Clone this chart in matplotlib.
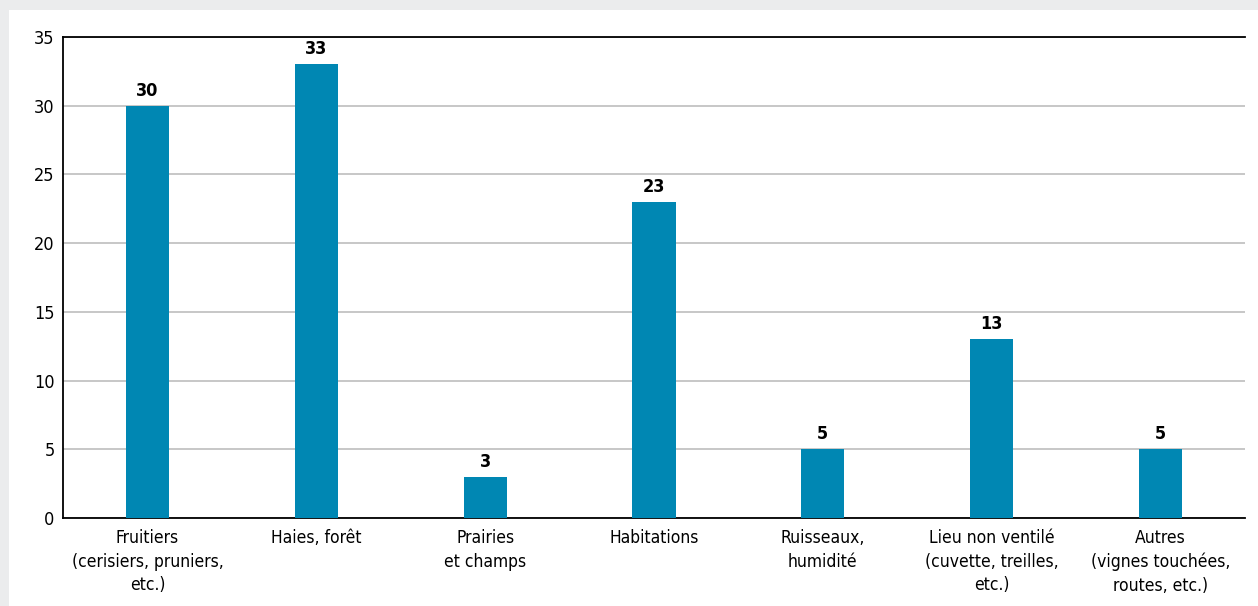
import matplotlib
matplotlib.use("Agg")
import matplotlib.pyplot as plt
from matplotlib.patches import Rectangle

categories = ["Fruitiers\n(cerisiers, pruniers,\netc.)", "Haies, forêt", "Prairies\net champs",
              "Habitations", "Ruisseaux,\nhumidité", "Lieu non ventilé\n(cuvette, treilles,\netc.)",
              "Autres\n(vignes touchées,\nroutes, etc.)"]
values = [30, 33, 3, 23, 5, 13, 5]
yticks = [0, 5, 10, 15, 20, 25, 30, 35]

plt.rcParams['font.family'] = ['DejaVu Sans']
plt.rcParams['font.stretch'] = 'condensed'

W, H = 1258, 606
fig = plt.figure(figsize=(W / 100, H / 100), dpi=100, facecolor="#ebeced")
# white panel behind the axes
fig.patches.append(Rectangle((9 / W, 0), 1 - 9 / W, 1 - 10 / H, transform=fig.transFigure,
                             facecolor="white", edgecolor="none", zorder=-10))

ax = fig.add_axes([63 / W, 1 - 518 / H, (1245 - 63) / W, (518 - 37) / H])
ax.set_facecolor("white")
x = range(len(values))
ax.bar(x, values, width=0.255, color="#0087b3", zorder=3)
for xi, v in zip(x, values):
    ax.text(xi, v + 0.45, str(v), ha="center", va="bottom", fontsize=13, fontweight="bold", zorder=4)

ax.set_xlim(-0.5, len(values) - 0.5)
ax.set_ylim(0, 35)
ax.set_yticks(yticks)
ax.set_xticks(list(x))
ax.set_xticklabels(categories, fontsize=12.5, linespacing=1.4)
ax.tick_params(axis="y", length=0, pad=6, labelsize=13)
ax.tick_params(axis="x", length=0, pad=8)
ax.grid(axis="y", color="#bdbdbd", linewidth=1.2, zorder=1)
for s in ["left", "bottom", "top"]:
    ax.spines[s].set_color("black")
    ax.spines[s].set_linewidth(1.3)
ax.spines["right"].set_visible(False)

fig.savefig("out.png", dpi=100, facecolor=fig.get_facecolor())
